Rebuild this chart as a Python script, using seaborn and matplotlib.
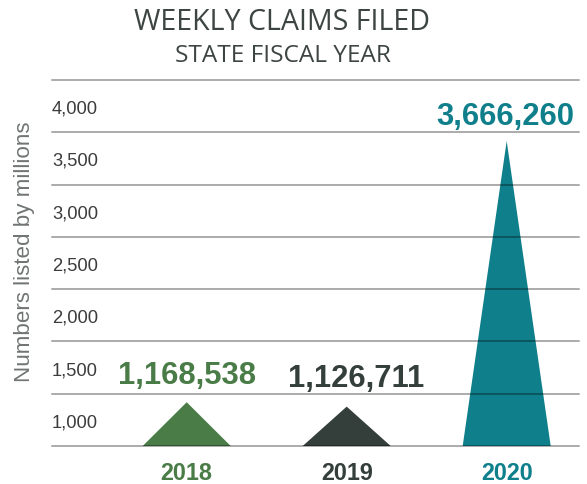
import matplotlib
matplotlib.use('Agg')
import matplotlib.pyplot as plt
import seaborn as sns
import pandas as pd

years = ['2018', '2019', '2020']
claims = [1168538, 1126711, 3666260]
colors = ['#4a7c47', '#343f3b', '#0f7f8b']
tick_vals = [1000, 1500, 2000, 2500, 3000, 3500, 4000]
tick_labels = ['1,000', '1,500', '2,000', '2,500', '3,000', '3,500', '4,000']
grid_vals = [750, 1250, 1750, 2250, 2750, 3250, 3750, 4250]

df = pd.DataFrame({'year': years, 'claims': claims, 'color': colors})
df['thousands'] = df.claims / 1000

sns.set_theme(style='white')
plt.rcParams['font.family'] = ['Liberation Sans', 'DejaVu Sans']

fig = plt.figure(figsize=(5.87, 4.85), dpi=100)
ax = fig.add_axes([52 / 587, 38 / 485, 527 / 587, 366 / 485])

base = grid_vals[0]
half_w = 0.275
for i, row in df.iterrows():
    ax.fill(
        [i - half_w, i, i + half_w],
        [base, row.thousands, base],
        color=row.color,
        linewidth=0,
        zorder=2
    )

for g in grid_vals:
    ax.axhline(g, color='black', alpha=0.33, linewidth=1.4, zorder=3, clip_on=False)

ax.set_xlim(-0.842, 2.452)
ax.set_ylim(base, grid_vals[-1])
sns.despine(ax=ax, left=True, bottom=True)

ax.set_yticks(tick_vals)
ax.set_yticklabels(tick_labels, fontsize=13.2, color='#3c3c3c', ha='left')
ax.tick_params(axis='y', length=0, pad=0)

ax.set_xticks(range(len(years)))
ax.set_xticklabels(years, fontsize=16.8, fontweight='bold')
for lbl, c in zip(ax.get_xticklabels(), colors):
    lbl.set_color(c)
ax.tick_params(axis='x', length=0, pad=10.5)

label_y = [0.194, 0.187, 0.903]
label_x = [0, 1.056, 1.99]
for i, row in df.iterrows():
    ax.text(
        label_x[i], label_y[i], f'{row.claims:,}',
        transform=ax.get_xaxis_transform(),
        ha='center', va='center',
        fontsize=22.3, fontweight='bold', color=row.color
    )

fig.text(25 / 587, 1 - 252 / 485, 'Numbers listed by millions', rotation=90,
         ha='center', va='center', fontsize=16.1, color='#707573')

fig.text(282 / 587, 1 - 22 / 485, 'WEEKLY CLAIMS FILED', ha='center', va='center',
         fontsize=20.6, color='#3d4543', family=['Open Sans', 'DejaVu Sans'])
fig.text(283 / 587, 1 - 56.5 / 485, 'STATE FISCAL YEAR', ha='center', va='center',
         fontsize=17.6, color='#3d4543', family=['Open Sans', 'DejaVu Sans'])

fig.savefig('out.png', dpi=100)
